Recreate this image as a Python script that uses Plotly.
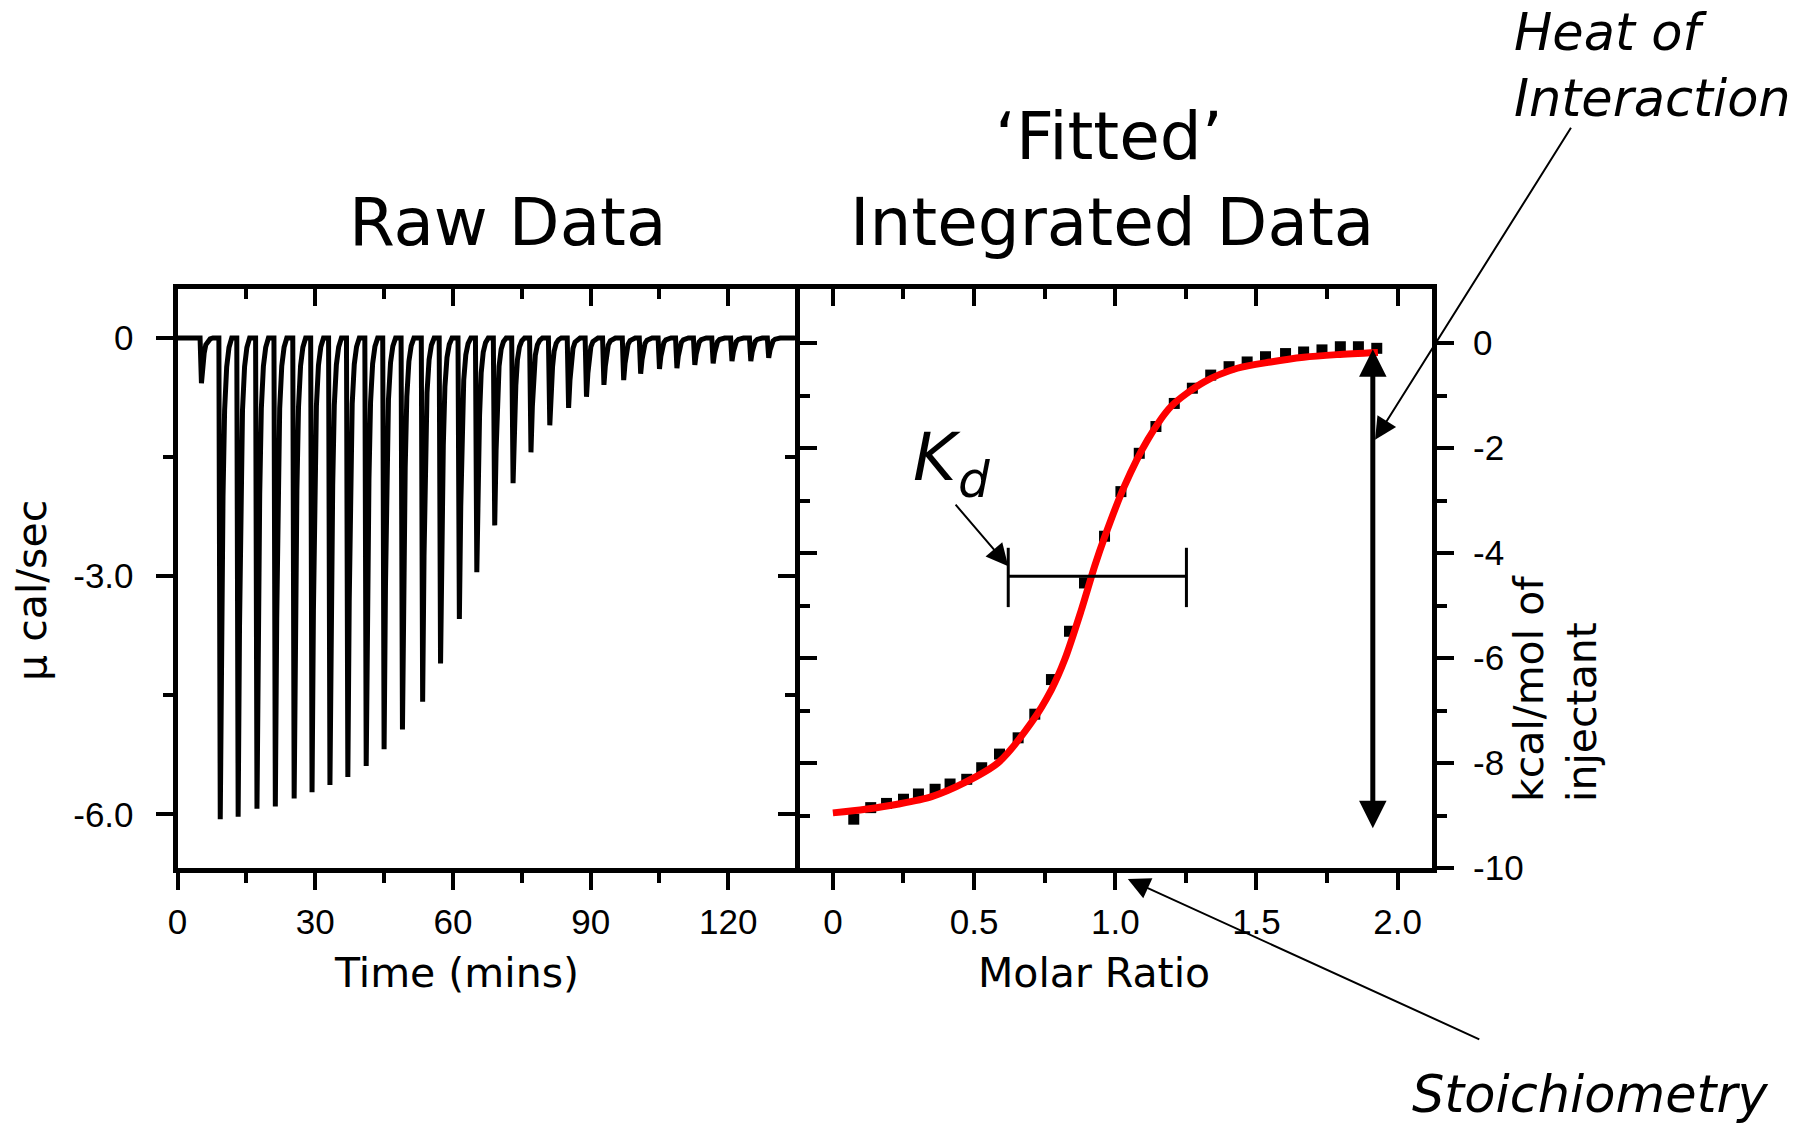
import plotly.graph_objects as go

W, H = 1813, 1123
H_EFF = 1104  # measured vertical scale of the rendered page

# ---------------- Raw data (left panel) ----------------
time_start = 0.0
time_end = 134.5
# time of each injection peak (min) and peak depth (µcal/sec)
injection_times = [5.2, 9.3, 13.2, 17.3, 21.3, 25.4, 29.3, 33.2, 37.1, 41.1, 45.0,
                   49.0, 53.4, 57.3, 61.4, 65.2, 69.1, 73.1, 77.0, 81.1, 85.2, 89.1,
                   92.9, 97.2, 100.9, 105.0, 108.8, 112.7, 116.7, 120.8, 124.9, 128.8]
peak_heights = [-0.57, -6.06, -6.03, -5.93, -5.90, -5.80, -5.72, -5.63, -5.53, -5.39,
                -5.18, -4.93, -4.58, -4.10, -3.54, -2.95, -2.36, -1.83, -1.44, -1.10,
                -0.88, -0.74, -0.59, -0.53, -0.45, -0.39, -0.38, -0.34, -0.32, -0.29,
                -0.29, -0.25]
# shape of a single injection peak (time offset from peak, fraction of depth)
spike_offsets = [-0.3, 0.0, 0.3, 0.6, 0.95, 1.4, 1.9, 2.5]
spike_fractions = [0.0, 1.0, 0.6, 0.33, 0.15, 0.06, 0.02, 0.0]

raw_x, raw_y = [time_start], [0.0]
for t, h in zip(injection_times, peak_heights):
    for o, f in zip(spike_offsets, spike_fractions):
        raw_x.append(t + o)
        raw_y.append(h * f)
raw_x.append(time_end)
raw_y.append(0.0)

# ---------------- Integrated data (right panel) ----------------
molar_ratio = [0.074, 0.134, 0.190, 0.250, 0.303, 0.362, 0.415, 0.474, 0.527, 0.590,
               0.656, 0.715, 0.774, 0.838, 0.891, 0.962, 1.020, 1.085, 1.144, 1.209,
               1.273, 1.338, 1.403, 1.467, 1.532, 1.603, 1.667, 1.732, 1.797, 1.861,
               1.926]
heat_kcal = [-9.07, -8.85, -8.77, -8.69, -8.59, -8.50, -8.40, -8.31, -8.09, -7.83,
             -7.52, -7.07, -6.41, -5.49, -4.57, -3.68, -2.83, -2.10, -1.59, -1.15,
             -0.86, -0.61, -0.45, -0.36, -0.26, -0.20, -0.17, -0.13, -0.07, -0.07,
             -0.10]
fit_ratio = [0.00, 0.115, 0.233, 0.35, 0.468, 0.586, 0.703, 0.774, 0.821, 0.879,
             0.927, 0.962, 1.032, 1.115, 1.197, 1.315, 1.432, 1.55, 1.667, 1.785, 1.93]
fit_heat = [-8.95, -8.88, -8.78, -8.64, -8.37, -7.99, -7.23, -6.60, -6.03, -5.10,
            -4.25, -3.70, -2.73, -1.84, -1.21, -0.74, -0.48, -0.36, -0.27, -0.22, -0.18]

# tick labels
time_ticks = [0, 30, 60, 90, 120]
time_ticktext = ["0", "30", "60", "90", "120"]
time_minor = [15, 45, 75, 105]
power_ticks = [0, -3, -6]
power_ticktext = ["0", "-3.0", "-6.0"]
power_minor = [-1.5, -4.5]
ratio_ticks = [0, 0.5, 1.0, 1.5, 2.0]
ratio_ticktext = ["0", "0.5", "1.0", "1.5", "2.0"]
ratio_minor = [0.25, 0.75, 1.25, 1.75]
enth_ticks = [0, -2, -4, -6, -8, -10]
enth_ticktext = ["0", "-2", "-4", "-6", "-8", "-10"]
enth_minor = [-1, -3, -5, -7, -9]

# annotation anchors (data coords of right panel)
kd_low, kd_high, kd_level = 0.621, 1.252, -4.44
kd_bar_top, kd_bar_bottom = -3.90, -5.03
heat_arrow_x, heat_arrow_top, heat_arrow_bottom = 1.912, -0.12, -9.27

TICKFONT = dict(family="Liberation Sans, Arial, sans-serif", size=35, color="black")
TEXTFONT = "DejaVu Sans, Verdana, sans-serif"


def px(x):
    return x / W


def py(y):
    return 1 - y / H_EFF


fig = go.Figure()
fig.add_trace(go.Scatter(x=raw_x, y=raw_y, mode="lines", xaxis="x", yaxis="y",
                         line=dict(color="black", width=5), hoverinfo="skip"))
fig.add_trace(go.Scatter(x=molar_ratio, y=heat_kcal, mode="markers", xaxis="x2", yaxis="y2",
                         marker=dict(symbol="square", size=11, color="black"), hoverinfo="skip"))
fig.add_trace(go.Scatter(x=fit_ratio, y=fit_heat, mode="lines", xaxis="x2", yaxis="y2",
                         line=dict(color="#ff0000", width=7, shape="spline", smoothing=0.8),
                         hoverinfo="skip"))
# empty traces so the mirrored-tick overlay axes are drawn
for xa, ya in [("x3", "y"), ("x", "y3"), ("x4", "y2"), ("x2", "y4")]:
    fig.add_trace(go.Scatter(x=[], y=[], xaxis=xa, yaxis=ya, hoverinfo="skip"))

LW = 5
MAJ, MINL, TW = 17, 10, 4
ydom = [py(868), py(289)]
xdom1 = [px(168.5), px(789.5)]
xdom2 = [px(794.5), px(1430)]
rng_x1 = [0.0, 134.56]
rng_y1 = [-6.675, 0.617]
rng_x2 = [-0.116, 2.122]
rng_y2 = [-10.0, 1.03]


def main_axis(domain, rng, tickvals, ticktext, minor, anchor, standoff, side=None):
    d = dict(domain=domain, range=rng, anchor=anchor, showline=True, linewidth=LW,
             linecolor="black", mirror=True, ticks="outside", ticklen=MAJ, tickwidth=TW,
             tickcolor="black", tickmode="array", tickvals=tickvals, ticktext=ticktext,
             minor=dict(tickmode="array", tickvals=minor, ticks="outside", ticklen=MINL,
                        tickwidth=TW, tickcolor="black"),
             showgrid=False, zeroline=False, tickfont=TICKFONT, ticklabelstandoff=standoff,
             fixedrange=True)
    if side:
        d["side"] = side
    return d


def mirror_axis(over, rng, tickvals, minor, anchor, side):
    return dict(overlaying=over, range=rng, anchor=anchor, side=side, showline=False,
                ticks="inside", ticklen=MAJ, tickwidth=TW, tickcolor="black",
                tickmode="array", tickvals=tickvals, showticklabels=False,
                minor=dict(tickmode="array", tickvals=minor, ticks="inside", ticklen=MINL,
                           tickwidth=TW, tickcolor="black"),
                showgrid=False, zeroline=False, fixedrange=True)


annotations = [
    dict(text="Raw Data", x=px(500), y=py(222), font=dict(family=TEXTFONT, size=66)),
    dict(text="\u2018Fitted\u2019", x=px(1105), y=py(136), font=dict(family=TEXTFONT, size=66)),
    dict(text="Integrated Data", x=px(1108), y=py(222), font=dict(family=TEXTFONT, size=66)),
    dict(text="<i>Heat of</i>", x=px(1510), y=py(33), xanchor="left",
         font=dict(family=TEXTFONT, size=51)),
    dict(text="<i>Interaction</i>", x=px(1510), y=py(98), xanchor="left",
         font=dict(family=TEXTFONT, size=51)),
    dict(text="<i>Stoichiometry</i>", x=px(1408), y=py(1094), xanchor="left",
         font=dict(family=TEXTFONT, size=51)),
    dict(text="<i>K</i>", x=px(932), y=py(457), font=dict(family=TEXTFONT, size=66)),
    dict(text="<i>d</i>", x=px(969), y=py(480), font=dict(family=TEXTFONT, size=50)),
    dict(text="Time (mins)", x=px(449), y=py(973), font=dict(family=TEXTFONT, size=41)),
    dict(text="Molar Ratio", x=px(1090), y=py(973), font=dict(family=TEXTFONT, size=41)),
    dict(text="\u03bc cal/sec", x=px(22), y=py(590), textangle=-90,
         font=dict(family=TEXTFONT, size=41)),
    dict(text="kcal/mol of<br>injectant", x=px(1554), y=py(804), textangle=-90,
         yanchor="bottom", align="left", font=dict(family=TEXTFONT, size=41)),
]
for a in annotations:
    a.setdefault("xref", "paper")
    a.setdefault("yref", "paper")
    a.setdefault("xanchor", "center")
    a.setdefault("yanchor", "middle")
    a["showarrow"] = False

arrow_common = dict(text="", showarrow=True, arrowcolor="black", standoff=0, startstandoff=0)
data_ref = dict(xref="x2", yref="y2", axref="x2", ayref="y2")
annotations += [
    dict(x=kd_low, y=-4.25, ax=0.43, ay=-3.05, arrowhead=2, arrowsize=2.2,
         arrowwidth=2, **data_ref, **arrow_common),
    dict(x=heat_arrow_x, y=heat_arrow_top, ax=heat_arrow_x, ay=heat_arrow_bottom,
         arrowhead=2, arrowsize=1.1, arrowwidth=5, arrowside="end+start",
         **data_ref, **arrow_common),
    dict(x=1.92, y=-1.84, ax=2.617, ay=4.13, arrowhead=2, arrowsize=2.2, arrowwidth=2,
         **data_ref, **arrow_common),
    # stoichiometry pointer: head just below the 1.0 tick, tail towards the label
    dict(x=px(1124), y=py(879), xref="paper", yref="paper", ax=353, ay=161,
         axref="pixel", ayref="pixel", arrowhead=2, arrowsize=2.2, arrowwidth=2,
         **arrow_common),
]

shapes = [
    dict(type="line", xref="x2", yref="y2", x0=kd_low, x1=kd_high, y0=kd_level, y1=kd_level,
         line=dict(color="black", width=3)),
    dict(type="line", xref="x2", yref="y2", x0=kd_low, x1=kd_low, y0=kd_bar_top,
         y1=kd_bar_bottom, line=dict(color="black", width=3)),
    dict(type="line", xref="x2", yref="y2", x0=kd_high, x1=kd_high, y0=kd_bar_top,
         y1=kd_bar_bottom, line=dict(color="black", width=3)),
]

fig.update_layout(
    width=W, height=H, margin=dict(l=0, r=0, t=0, b=0, pad=0),
    paper_bgcolor="white", plot_bgcolor="white", showlegend=False,
    font=dict(family=TEXTFONT, color="black"),
    xaxis=main_axis(xdom1, rng_x1, time_ticks, time_ticktext, time_minor, "y", 2),
    yaxis=main_axis(ydom, rng_y1, power_ticks, power_ticktext, power_minor, "x", 15),
    xaxis2=main_axis(xdom2, rng_x2, ratio_ticks, ratio_ticktext, ratio_minor, "y2", 2),
    yaxis2=main_axis(ydom, rng_y2, enth_ticks, enth_ticktext, enth_minor, "x2", 12,
                     side="right"),
    xaxis3=mirror_axis("x", rng_x1, time_ticks, time_minor, "y", "top"),
    yaxis3=mirror_axis("y", rng_y1, power_ticks, power_minor, "x", "right"),
    xaxis4=mirror_axis("x2", rng_x2, ratio_ticks, ratio_minor, "y2", "top"),
    yaxis4=mirror_axis("y2", rng_y2, enth_ticks, enth_minor, "x2", "left"),
    annotations=annotations,
    shapes=shapes,
)

fig.write_html("out.html", config={"displayModeBar": False})
